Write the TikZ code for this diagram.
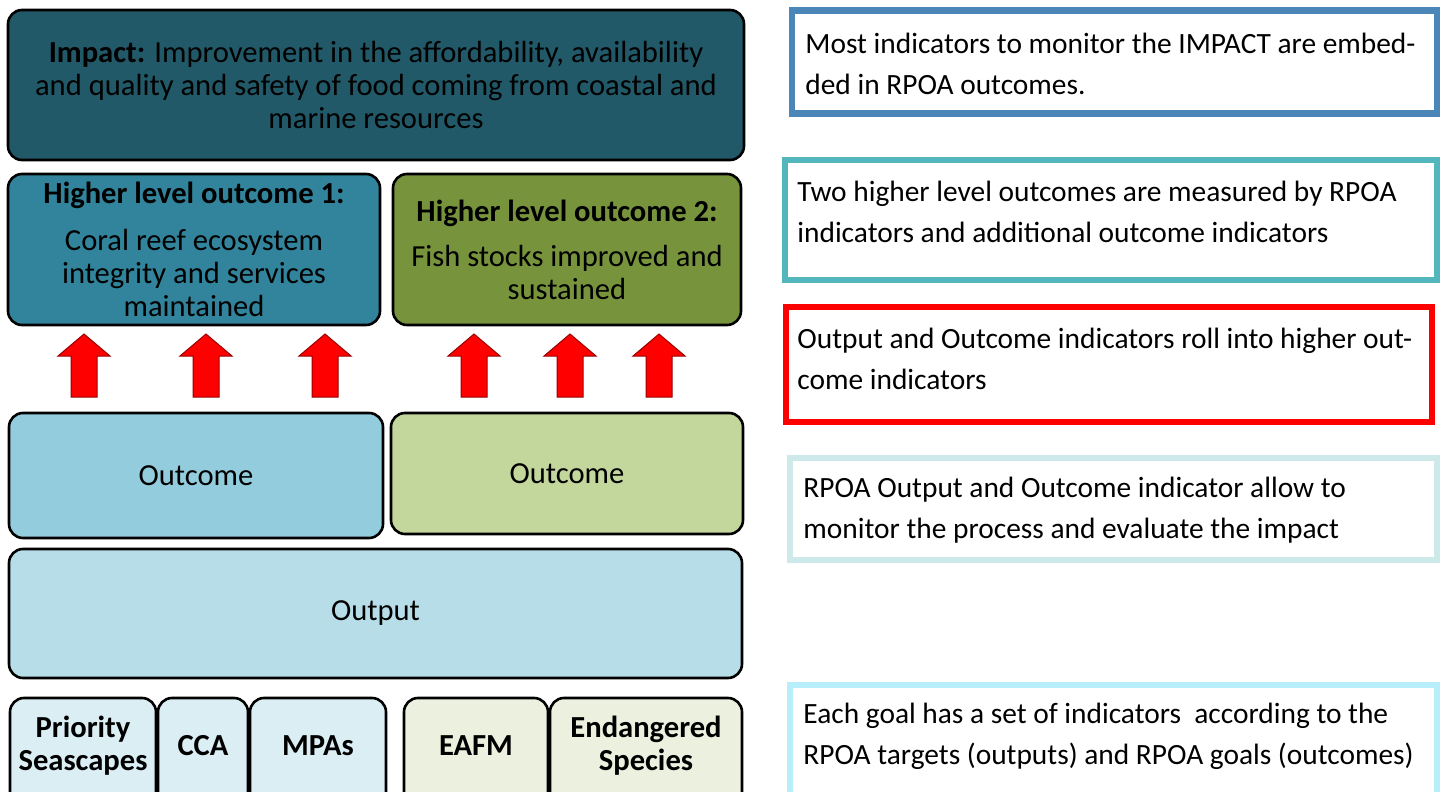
\documentclass[tikz,border=0pt]{standalone}
\usepackage{fontspec}
\setmainfont{Carlito}
\usetikzlibrary{positioning}

\definecolor{impactfill}{HTML}{215968}
\definecolor{hlofillA}{HTML}{31849B}
\definecolor{hlofillB}{HTML}{77933C}
\definecolor{outcfillA}{HTML}{93CDDD}
\definecolor{outcfillB}{HTML}{C3D69B}
\definecolor{outputfill}{HTML}{B7DEE8}
\definecolor{goalfillA}{HTML}{DBEEF4}
\definecolor{goalfillB}{HTML}{EBF1DE}
\definecolor{noteblue}{HTML}{4A86B8}
\definecolor{noteteal}{HTML}{52B6BC}
\definecolor{notepale}{HTML}{CDE9E9}
\definecolor{notecyan}{HTML}{B8EEFA}

\tikzset{
  box/.style={draw=black, line width=1.3pt, rounded corners=7pt, inner sep=0pt,
    align=center, font=\fontsize{15.3}{16.5}\selectfont},
  goalbox/.style={box, minimum height=56pt},
  goaltext/.style={inner sep=0pt, align=center, font=\fontsize{15.3}{16.5}\selectfont\bfseries},
  notebox/.style={line width=3.2pt, inner sep=0pt, fill=white},
  notetext/.style={inner sep=0pt, anchor=west, align=left, font=\fontsize{14.7}{20.5}\selectfont},
  uparrow/.style={fill=red, draw=red!60!black, line width=0.5pt},
}

\begin{document}
\begin{tikzpicture}[x=0.5pt,y=-0.5pt]
\useasboundingbox (0,0) rectangle (1442,792);
\clip (0,0) rectangle (1442,792);

% Impact
\node[box, fill=impactfill, minimum width=368pt, minimum height=75pt] (impact) at (376,85)
  {\textbf{Impact:} Improvement in the affordability, availability\\
   and quality and safety of food coming from coastal and\\
   marine resources};

% Higher level outcomes
\node[box, fill=hlofillA, minimum width=186pt, minimum height=75.5pt] (hloA) at (194,249.5)
  {\textbf{Higher level outcome 1:}\\[7pt]
   Coral reef ecosystem\\ integrity and services\\ maintained};
\node[box, fill=hlofillB, minimum width=174pt, minimum height=75.5pt] (hloB) at (567,249.5)
  {\textbf{Higher level outcome 2:}\\[6pt]
   Fish stocks improved and\\ sustained};

% roll-up arrows
\foreach \ax in {84,206,325,474,570,659}
  \draw[uparrow] (\ax-13,397) -- (\ax-13,356) -- (\ax-26,356) -- (\ax,334)
    -- (\ax+26,356) -- (\ax+13,356) -- (\ax+13,397) -- cycle;

% Outcomes and output
\node[box, fill=outcfillA, minimum width=187pt, minimum height=62.5pt] (outcA) at (196,475.5) {Outcome};
\node[box, fill=outcfillB, minimum width=176pt, minimum height=60.5pt] (outcB) at (567,473.5) {Outcome};
\node[box, fill=outputfill, minimum width=366.5pt, minimum height=64.5pt] (output) at (375.5,613.5) {Output};

% Goals
\node[goalbox, fill=goalfillA, minimum width=73pt] (prio) at (83,754) {};
\node[goalbox, fill=goalfillA, minimum width=45pt] (cca) at (203,754) {};
\node[goalbox, fill=goalfillA, minimum width=68pt] (mpa) at (318,754) {};
\node[goalbox, fill=goalfillB, minimum width=72pt] (eafm) at (476,754) {};
\node[goalbox, fill=goalfillB, minimum width=96pt] (endsp) at (646,754) {};
\node[goaltext] (prioT) at (83,746) {Priority\\ Seascapes};
\node[goaltext] (ccaT) at (203,746) {CCA};
\node[goaltext] (mpaT) at (318,746) {MPAs};
\node[goaltext] (eafmT) at (476,746) {EAFM};
\node[goaltext] (endspT) at (646,746) {Endangered\\ Species};

% Notes
\node[notebox, draw=noteblue, minimum width=322.5pt, minimum height=51.5pt] (noteA) at (1114.5,62) {};
\node[notetext] (noteAT) at (805,64)
  {Most indicators to monitor the IMPACT are embed-\\ ded in RPOA outcomes.};
\node[notebox, draw=noteteal, minimum width=325.75pt, minimum height=60pt] (noteB) at (1111,220) {};
\node[notetext] (noteBT) at (797,212)
  {Two higher level outcomes are measured by RPOA\\ indicators and additional outcome indicators};
\node[notebox, draw=red, minimum width=322.75pt, minimum height=57.5pt] (noteC) at (1109,364.5) {};
\node[notetext] (noteCT) at (797,359)
  {Output and Outcome indicators roll into higher out-\\ come indicators};
\node[notebox, draw=notepale, minimum width=323.5pt, minimum height=50.75pt] (noteD) at (1113.5,509) {};
\node[notetext] (noteDT) at (803,510)
  {RPOA Output and Outcome indicator allow to\\ monitor the process and evaluate the impact};
\node[notebox, draw=notecyan, minimum width=323.5pt, minimum height=67.5pt] (noteE) at (1113.5,752.5) {};
\node[notetext] (noteET) at (803,736)
  {Each goal has a set of indicators\ \ according to the\\ RPOA targets (outputs) and RPOA goals (outcomes)};

\end{tikzpicture}
\end{document}
